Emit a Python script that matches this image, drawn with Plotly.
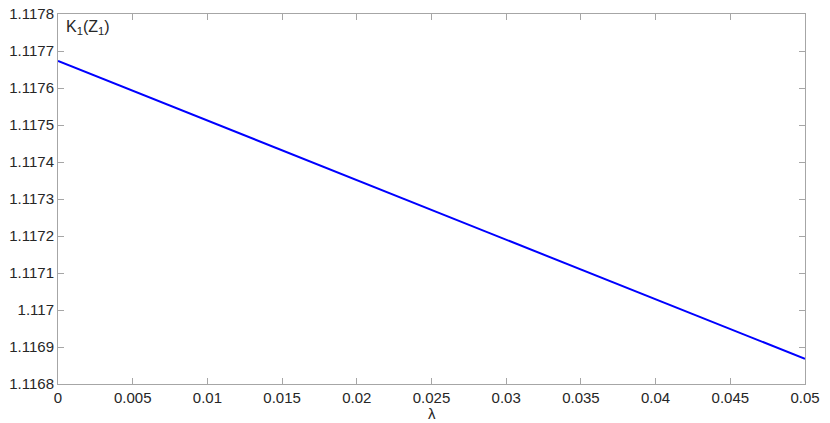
import plotly.graph_objects as go

# lambda values and K1(Z1) values
lam = [0.0, 0.01, 0.02, 0.03, 0.04, 0.05]
k1 = [1.117673, 1.117512, 1.117351, 1.117190, 1.117029, 1.116868]

x_ticks = [0, 0.005, 0.01, 0.015, 0.02, 0.025, 0.03, 0.035, 0.04, 0.045, 0.05]
x_labels = ["0", "0.005", "0.01", "0.015", "0.02", "0.025", "0.03", "0.035", "0.04", "0.045", "0.05"]
y_ticks = [1.1168, 1.1169, 1.117, 1.1171, 1.1172, 1.1173, 1.1174, 1.1175, 1.1176, 1.1177, 1.1178]
y_labels = ["1.1168", "1.1169", "1.117", "1.1171", "1.1172", "1.1173", "1.1174", "1.1175", "1.1176", "1.1177", "1.1178"]

fig = go.Figure(go.Scatter(x=lam, y=k1, mode="lines",
                           line=dict(color="#0000ff", width=2)))

axis_style = dict(showline=True, linecolor="#a6a6a6", linewidth=1, mirror="ticks",
                  ticks="inside", ticklen=6, tickcolor="#a6a6a6", showgrid=False,
                  zeroline=False, automargin=False,
                  tickfont=dict(family="Liberation Sans, Arial", size=15, color="#262626"))

fig.update_xaxes(range=[0, 0.05], tickvals=x_ticks, ticktext=x_labels, **axis_style)
fig.update_yaxes(range=[1.1168, 1.1178], tickvals=y_ticks, ticktext=y_labels, **axis_style)

fig.add_annotation(text="K<sub>1</sub>(Z<sub>1</sub>)", xref="paper", yref="paper",
                   x=0.008, y=0.995, xanchor="left", yanchor="top", showarrow=False,
                   font=dict(family="Liberation Sans, Arial", size=16, color="#262626"))
fig.add_annotation(text="λ", xref="paper", yref="paper", x=0.5, y=-0.05,
                   xanchor="center", yanchor="top", showarrow=False,
                   font=dict(family="Liberation Sans, Arial", size=15, color="#262626"))

fig.update_layout(width=830, height=423, margin=dict(l=58, r=25, t=14, b=39),
                  plot_bgcolor="white", paper_bgcolor="white", showlegend=False)

# drop the default 8px body margin so the figure fills the window
fig.write_html("out.html", config={"displayModeBar": False},
               post_script="document.body.style.margin = '0';")
